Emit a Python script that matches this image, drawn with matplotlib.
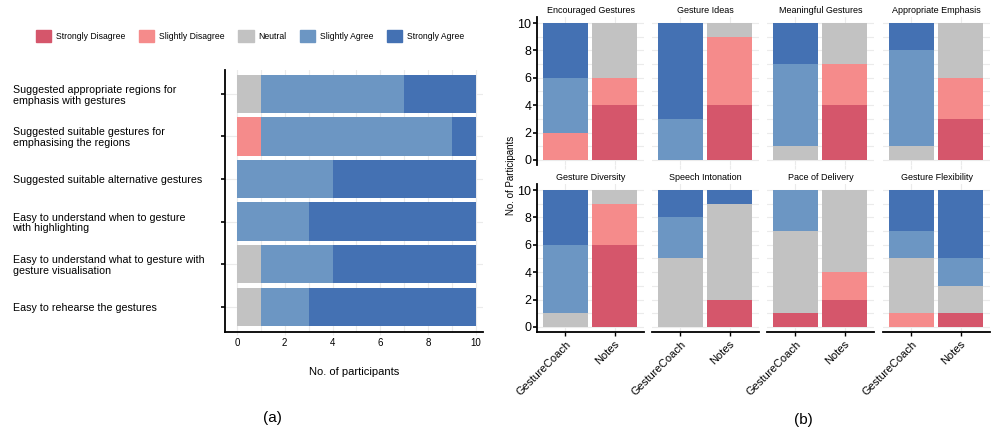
import matplotlib
matplotlib.use("Agg")
import matplotlib.pyplot as plt
import matplotlib.patches as mpatches
import numpy as np

plt.rcParams['font.family'] = ['Liberation Sans', 'DejaVu Sans']

levels = ["Strongly Disagree", "Slightly Disagree", "Neutral", "Slightly Agree", "Strongly Agree"]
colors = ["#d5566b", "#f58b8b", "#c2c2c2", "#6c96c3", "#4471b3"]

# Panel (a)
statements = [
    "Suggested appropriate regions for\nemphasis with gestures",
    "Suggested suitable gestures for\nemphasising the regions",
    "Suggested suitable alternative gestures",
    "Easy to understand when to gesture\nwith highlighting",
    "Easy to understand what to gesture with\ngesture visualisation",
    "Easy to rehearse the gestures",
]
# counts per level: SD, SlD, N, SA, StA
a_counts = [
    [0, 0, 1, 6, 3],
    [0, 1, 0, 8, 1],
    [0, 0, 0, 4, 6],
    [0, 0, 0, 3, 7],
    [0, 0, 1, 3, 6],
    [0, 0, 1, 2, 7],
]

# Panel (b)
facets = ["Encouraged Gestures", "Gesture Ideas", "Meaningful Gestures", "Appropriate Emphasis",
          "Gesture Diversity", "Speech Intonation", "Pace of Delivery", "Gesture Flexibility"]
conditions = ["GestureCoach", "Notes"]
# for each facet: [GestureCoach counts, Notes counts] in level order SD, SlD, N, SA, StA
b_counts = [
    [[0, 2, 0, 4, 4], [4, 2, 4, 0, 0]],
    [[0, 0, 0, 3, 7], [4, 5, 1, 0, 0]],
    [[0, 0, 1, 6, 3], [4, 3, 3, 0, 0]],
    [[0, 0, 1, 7, 2], [3, 3, 4, 0, 0]],
    [[0, 0, 1, 5, 4], [6, 3, 1, 0, 0]],
    [[0, 0, 5, 3, 2], [2, 0, 7, 0, 1]],
    [[1, 0, 6, 3, 0], [2, 2, 6, 0, 0]],
    [[0, 1, 4, 2, 3], [1, 0, 2, 2, 5]],
]

W, H = 996, 438
fig = plt.figure(figsize=(W / 100, H / 100), dpi=100)


def px_axes(l, t, r, b):
    return fig.add_axes([l / W, 1 - b / H, (r - l) / W, (b - t) / H])


GRID = "#ebebeb"

# ---------- Panel (a) ----------
ax = px_axes(225, 70, 483, 332)
ypos = np.arange(len(statements))
arr = np.array(a_counts)
left = np.zeros(len(statements))
for k, lev in enumerate(levels):
    ax.barh(ypos, arr[:, k], left=left, height=0.9, color=colors[k], zorder=2)
    left += arr[:, k]
ax.set_xlim(-0.5, 10.3)
ax.set_ylim(5.59, -0.56)
ax.set_xticks(range(0, 11, 2))
ax.set_xticks(range(1, 11, 2), minor=True)
ax.set_yticks(ypos)
ax.set_yticklabels(statements, fontsize=7.7, linespacing=1.1)
for lab in ax.get_yticklabels():
    lab.set_horizontalalignment('left')
ax.tick_params(axis='y', length=3, width=1.2, pad=150, colors='black')
ax.tick_params(axis='x', which='major', length=2, labelsize=7, pad=2, color=GRID)
ax.tick_params(axis='x', which='minor', length=0)
ax.grid(True, which='both', axis='x', color=GRID, lw=0.8, zorder=0)
ax.grid(True, which='major', axis='y', color=GRID, lw=0.8, zorder=0)
for s in ['top', 'right']:
    ax.spines[s].set_visible(False)
for s in ['left', 'bottom']:
    ax.spines[s].set_linewidth(1.3)
ax.set_xlabel("No. of participants", fontsize=8, labelpad=14)

handles = [mpatches.Patch(color=c, label=l) for c, l in zip(colors, levels)]
fig.legend(handles=handles, loc='center', bbox_to_anchor=(250 / W, 1 - 36 / H), ncol=5,
           frameon=False, fontsize=6.2, handlelength=1.8, handleheight=1.8,
           handletextpad=0.5, columnspacing=1.6, borderaxespad=0)

fig.text(272 / W, 1 - 418 / H, "(a)", fontsize=11, ha='center', va='center')

# ---------- Panel (b) ----------
col_left = [537, 652, 767, 883]
rows = [(17, 165), (184, 332)]
xc = np.arange(len(conditions))
for i, name in enumerate(facets):
    r, c = divmod(i, 4)
    t, b = rows[r]
    l = col_left[c]
    bx = px_axes(l, t, l + 107, b)
    data = np.array(b_counts[i])
    bottom = np.zeros(len(conditions))
    for k in range(len(levels)):
        bx.bar(xc, data[:, k], bottom=bottom, width=0.9, color=colors[k], zorder=2)
        bottom += data[:, k]
    bx.set_xlim(-0.58, 1.6)
    bx.set_ylim(-0.37, 10.44)
    bx.set_yticks(range(0, 11, 2))
    bx.set_yticks(range(1, 11, 2), minor=True)
    bx.set_xticks(xc)
    bx.grid(True, which='both', axis='y', color=GRID, lw=0.8, zorder=0)
    bx.grid(True, which='major', axis='x', color=GRID, lw=0.8, zorder=0)
    bx.tick_params(axis='y', which='minor', length=0)
    for s in ['top', 'right']:
        bx.spines[s].set_visible(False)
    bx.set_title(name, fontsize=6.5, pad=3)
    if c == 0:
        bx.spines['left'].set_linewidth(1.3)
        bx.tick_params(axis='y', which='major', length=3, width=1.2, labelsize=9, pad=1)
    else:
        bx.spines['left'].set_visible(False)
        bx.tick_params(axis='y', which='major', length=0, labelleft=False)
    if r == 1:
        bx.spines['bottom'].set_linewidth(1.3)
        bx.set_xticklabels(conditions, rotation=45, ha='right', rotation_mode='anchor', fontsize=8)
        bx.tick_params(axis='x', length=3, width=1.0, pad=2)
    else:
        bx.spines['bottom'].set_visible(False)
        bx.tick_params(axis='x', length=3, color=GRID, labelbottom=False)

fig.text(511 / W, 1 - 175 / H, "No. of Participants", rotation=90, fontsize=7, ha='center', va='center')
fig.text(803 / W, 1 - 420 / H, "(b)", fontsize=11, ha='center', va='center')

fig.savefig("out.png", dpi=100)
